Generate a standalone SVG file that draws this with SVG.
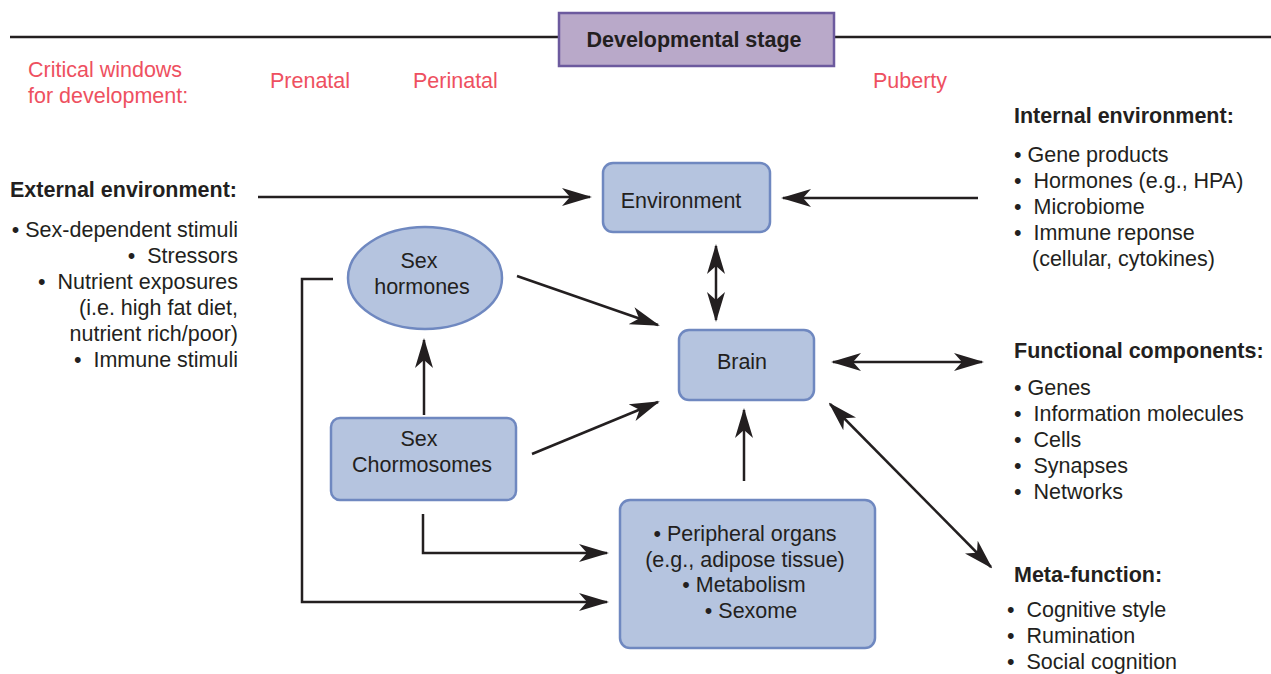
<svg xmlns="http://www.w3.org/2000/svg" width="1271" height="674" viewBox="0 0 1271 674">
<style>
text{font-family:"Liberation Sans",Arial,sans-serif;fill:#231f20;font-size:21.5px}
.b{font-weight:bold}
.r{fill:#ee5060}
.m{text-anchor:middle}
.e{text-anchor:end}
.box{fill:#b5c4df;stroke:#6f88c0;stroke-width:2.5}
.ln{fill:none;stroke:#231f20;stroke-width:2.5}
</style>
<defs>
<marker id="ah" viewBox="0 0 30 20" refX="28" refY="10" markerWidth="30" markerHeight="20" markerUnits="userSpaceOnUse" orient="auto-start-reverse">
<path d="M0,1 L30,10 L0,19 L8,10 z" fill="#231f20"/>
</marker>
</defs>
<g id="stage">
<line x1="10" y1="37" x2="558" y2="37" class="ln"/>
<line x1="834" y1="37" x2="1271" y2="37" class="ln"/>
<rect x="559" y="13" width="275" height="53" fill="#b9a9c9" stroke="#6c5a9e" stroke-width="2.5"/>
<text x="694" y="47" class="b m">Developmental stage</text>
</g>
<g id="windows">
<text x="28" y="77" class="r">Critical windows</text>
<text x="28" y="103" class="r">for development:</text>
<text x="270" y="88" class="r">Prenatal</text>
<text x="413" y="88" class="r">Perinatal</text>
<text x="873" y="88" class="r">Puberty</text>
</g>
<g id="external">
<text x="10" y="197" class="b">External environment:</text>
<text x="238" y="237" class="e">• Sex-dependent stimuli</text>
<text x="238" y="263" class="e">•&#160; Stressors</text>
<text x="238" y="289" class="e">•&#160; Nutrient exposures</text>
<text x="238" y="315" class="e">(i.e. high fat diet,</text>
<text x="238" y="341" class="e">nutrient rich/poor)</text>
<text x="238" y="367" class="e">•&#160; Immune stimuli</text>
</g>
<g id="internal">
<text x="1014" y="123" class="b">Internal environment:</text>
<text x="1014" y="162">• Gene products</text>
<text x="1014" y="188">•&#160; Hormones (e.g., HPA)</text>
<text x="1014" y="214">•&#160; Microbiome</text>
<text x="1014" y="240">•&#160; Immune reponse</text>
<text x="1032" y="266">(cellular, cytokines)</text>
</g>
<g id="functional">
<text x="1014" y="358" class="b">Functional components:</text>
<text x="1014" y="395">• Genes</text>
<text x="1014" y="421">•&#160; Information molecules</text>
<text x="1014" y="447">•&#160; Cells</text>
<text x="1014" y="473">•&#160; Synapses</text>
<text x="1014" y="499">•&#160; Networks</text>
</g>
<g id="meta">
<text x="1014" y="582" class="b">Meta-function:</text>
<text x="1007" y="617">•&#160; Cognitive style</text>
<text x="1007" y="643">•&#160; Rumination</text>
<text x="1007" y="669">•&#160; Social cognition</text>
</g>
<g id="environment">
<rect x="603" y="163" width="167" height="69" rx="10" class="box"/>
<text x="681" y="208" class="m">Environment</text>
</g>
<g id="brain">
<rect x="679" y="330" width="135" height="70" rx="10" class="box"/>
<text x="742" y="369" class="m">Brain</text>
</g>
<g id="hormones">
<ellipse cx="425" cy="278" rx="77" ry="51" class="box"/>
<text x="419" y="268" class="m">Sex</text>
<text x="422" y="294" class="m">hormones</text>
</g>
<g id="chromosomes">
<rect x="331" y="418" width="185" height="82" rx="9" class="box"/>
<text x="419" y="446" class="m">Sex</text>
<text x="422" y="472" class="m">Chormosomes</text>
</g>
<g id="peripheral">
<rect x="620" y="500" width="255" height="148" rx="10" class="box"/>
<text x="745" y="541" class="m">• Peripheral organs</text>
<text x="745" y="567" class="m">(e.g., adipose tissue)</text>
<text x="744" y="592" class="m">• Metabolism</text>
<text x="751" y="618" class="m">• Sexome</text>
</g>
<g id="connectors" class="ln">
<line x1="258" y1="197" x2="590" y2="197" marker-end="url(#ah)"/>
<line x1="978" y1="198" x2="783" y2="198" marker-end="url(#ah)"/>
<line x1="716" y1="246" x2="716" y2="320" marker-start="url(#ah)" marker-end="url(#ah)"/>
<line x1="517" y1="276" x2="658" y2="325" marker-end="url(#ah)"/>
<line x1="532" y1="454" x2="658" y2="402" marker-end="url(#ah)"/>
<line x1="424" y1="415" x2="424" y2="340" marker-end="url(#ah)"/>
<line x1="744" y1="481" x2="744" y2="410" marker-end="url(#ah)"/>
<line x1="833" y1="362" x2="982" y2="362" marker-start="url(#ah)" marker-end="url(#ah)"/>
<line x1="830" y1="404" x2="991" y2="567" marker-start="url(#ah)" marker-end="url(#ah)"/>
<polyline points="423,514 423,553 607,553" marker-end="url(#ah)"/>
<polyline points="333,279 302,279 302,602 607,602" marker-end="url(#ah)"/>
</g>
</svg>
